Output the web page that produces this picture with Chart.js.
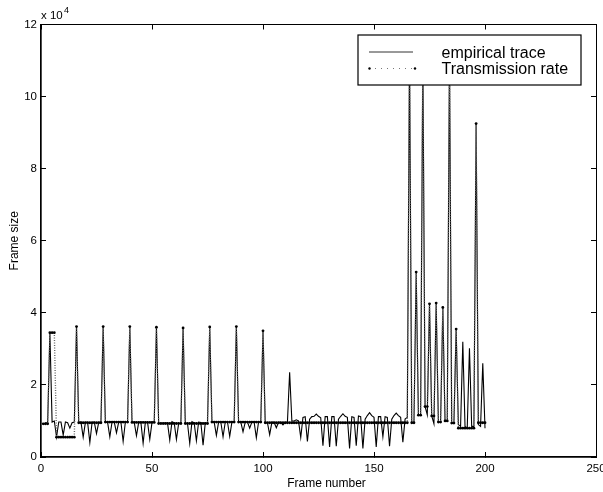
<!DOCTYPE html>
<html>
<head>
<meta charset="utf-8">
<style>
  html, body { margin: 0; padding: 0; background: #fff; }
  canvas { display: block; }
</style>
<script src="https://cdn.jsdelivr.net/npm/chart.js@4"></script>
</head>
<body>
<canvas id="traceChart" width="603" height="492"></canvas>
<script>
// Values, in units of 10^4 (frames 1 to 200)
const traceValues = [
  0.90, 0.95, 0.95, 3.45, 0.97, 1.00, 0.56, 0.97, 0.97, 0.61, 0.97, 0.95, 0.80, 0.95, 0.97,
  3.62, 0.95, 0.97, 0.55, 0.96, 0.96, 0.40, 0.96, 0.97, 0.65, 0.96, 0.96,
  3.62, 0.96, 0.96, 0.56, 0.97, 0.97, 0.67, 0.97, 0.97, 0.43, 0.97, 0.97,
  3.62, 0.96, 0.96, 0.59, 0.96, 0.96, 0.38, 0.96, 0.96, 0.49, 0.96, 0.96,
  3.60, 0.93, 0.93, 0.93, 0.94, 0.94, 0.47, 0.98, 0.95, 0.49, 0.93, 0.93,
  3.58, 0.93, 0.93, 0.38, 0.98, 0.95, 0.45, 0.97, 0.96, 0.33, 0.95, 0.93,
  3.61, 0.97, 0.97, 0.60, 0.97, 0.97, 0.56, 0.97, 0.97, 0.57, 0.97, 0.97,
  3.62, 0.97, 0.97, 0.70, 0.97, 0.97, 0.80, 0.97, 0.97, 0.53, 0.97, 0.97,
  3.50, 0.95, 0.95, 0.62, 0.96, 0.96, 0.81, 0.96, 0.96, 0.89, 0.96, 0.96,
  2.35, 1.00, 1.00, 1.03, 1.00, 0.54, 1.10, 1.12, 0.43, 1.05, 1.12, 1.13,
  1.19, 1.13, 1.09, 0.31, 1.12, 1.12, 0.28, 1.12, 1.12, 0.30, 1.05, 1.13,
  1.20, 1.13, 1.10, 0.24, 1.12, 1.10, 0.31, 1.14, 1.12, 0.24, 1.05, 1.15,
  1.23, 1.15, 1.10, 0.28, 1.12, 1.12, 0.56, 1.12, 1.10, 0.30, 1.05, 1.15,
  1.22, 1.15, 1.10, 0.41, 1.05, 1.10,
  11.2, 0.95, 0.95, 5.13, 1.17, 1.16, 11.2, 1.40, 1.17, 4.25, 1.14, 0.92,
  4.27, 0.97, 0.97, 4.15, 1.00, 1.00, 11.2, 0.94, 0.94, 3.55, 0.90, 0.85,
  3.20, 0.85, 0.80, 3.02, 0.85, 0.85, 9.25, 0.90, 0.85, 2.60, 0.80
];

const rateValues = [
  0.92, 0.92, 0.92, 3.45, 3.45, 3.45, 0.55, 0.55, 0.55, 0.55, 0.55, 0.55, 0.55, 0.55, 0.55,
  3.62, 0.95, 0.95, 0.95, 0.95, 0.95, 0.95, 0.95, 0.95, 0.95, 0.95, 0.95,
  3.62, 0.97, 0.97, 0.97, 0.97, 0.97, 0.97, 0.97, 0.97, 0.97, 0.97, 0.97,
  3.62, 0.96, 0.96, 0.96, 0.96, 0.96, 0.96, 0.96, 0.96, 0.96, 0.96, 0.96,
  3.60, 0.93, 0.93, 0.93, 0.93, 0.93, 0.93, 0.93, 0.93, 0.93, 0.93, 0.93,
  3.58, 0.93, 0.93, 0.93, 0.93, 0.93, 0.93, 0.93, 0.93, 0.93, 0.93, 0.93,
  3.61, 0.97, 0.97, 0.97, 0.97, 0.97, 0.97, 0.97, 0.97, 0.97, 0.97, 0.97,
  3.62, 0.97, 0.97, 0.97, 0.97, 0.97, 0.97, 0.97, 0.97, 0.97, 0.97, 0.97,
  3.50, 0.95, 0.95, 0.95, 0.95, 0.95, 0.95, 0.95, 0.95, 0.95, 0.95, 0.95,
  0.95, 0.95, 0.95, 0.95, 0.95, 0.95, 0.95, 0.95, 0.95, 0.95, 0.95, 0.95,
  0.95, 0.95, 0.95, 0.95, 0.95, 0.95, 0.95, 0.95, 0.95, 0.95, 0.95, 0.95,
  0.95, 0.95, 0.95, 0.95, 0.95, 0.95, 0.95, 0.95, 0.95, 0.95, 0.95, 0.95,
  0.95, 0.95, 0.95, 0.95, 0.95, 0.95, 0.95, 0.95, 0.95, 0.95, 0.95, 0.95,
  0.95, 0.95, 0.95, 0.95, 0.95, 0.95,
  11.2, 0.95, 0.95, 5.13, 1.16, 1.16, 11.2, 1.40, 1.40, 4.25, 1.14, 1.14,
  4.27, 0.97, 0.97, 4.15, 1.00, 1.00, 11.2, 0.94, 0.94, 3.55, 0.80, 0.80,
  0.80, 0.80, 0.80, 0.80, 0.80, 0.80, 9.25, 0.95, 0.95, 0.95, 0.95
];

const xTicks = [0, 50, 100, 150, 200, 250];
const yTicks = [0, 2, 4, 6, 8, 10, 12];

const traceName = 'empirical trace';
const rateName = 'Transmission rate';
const xTitle = 'Frame number';
const yTitle = 'Frame size';

const FONT = '"Liberation Sans", Arial, sans-serif';

function toPoints(values) {
  return values.map((v, i) => ({ x: i + 1, y: v }));
}

function setTicks(list) {
  return scale => { scale.ticks = list.map(v => ({ value: v })); };
}

// Plain scale with the tick marks pointing into the plot
function makeScale(position, list, min, max, showLabels, padding, size, borderWidth) {
  const horizontal = position === 'bottom' || position === 'top';
  return {
    type: 'linear',
    position: position,
    min: min,
    max: max,
    afterBuildTicks: setTicks(list),
    afterFit: scale => {
      if (horizontal) scale.height = size; else scale.width = size;
      // labels may hang past the plot edge, the plot keeps its size
      scale.paddingLeft = scale.paddingRight = scale.paddingTop = scale.paddingBottom = 0;
    },
    border: { display: true, color: '#000', width: borderWidth },
    grid: { drawOnChartArea: false, color: '#000', tickLength: -5, lineWidth: 1 },
    ticks: {
      display: showLabels,
      color: '#000',
      padding: padding,
      maxRotation: 0,
      autoSkip: false,
      font: { family: FONT, size: 11.5 }
    }
  };
}

// Boxed legend over the plot, the exponent above the y axis, the off-centre x title
const annotations = {
  id: 'annotations',
  afterDraw(chart) {
    const ctx = chart.ctx;
    ctx.save();
    ctx.fillStyle = '#fff';
    ctx.strokeStyle = '#000';
    ctx.lineWidth = 1.2;
    ctx.fillRect(358, 35, 223, 50);
    ctx.strokeRect(358, 35, 223, 50);

    ctx.lineWidth = 1;
    ctx.strokeStyle = '#333';
    ctx.beginPath();
    ctx.moveTo(369, 52);
    ctx.lineTo(413, 52);
    ctx.stroke();

    ctx.strokeStyle = '#777';
    ctx.setLineDash([1, 5]);
    ctx.beginPath();
    ctx.moveTo(369, 68.5);
    ctx.lineTo(415, 68.5);
    ctx.stroke();
    ctx.setLineDash([]);
    ctx.fillStyle = '#000';
    [369.5, 415].forEach(x => {
      ctx.beginPath();
      ctx.arc(x, 68.5, 1.2, 0, Math.PI * 2);
      ctx.fill();
    });

    ctx.textBaseline = 'alphabetic';
    ctx.font = '16px ' + FONT;
    ctx.fillText(traceName, 441.5, 58);
    ctx.fillText(rateName, 441.5, 74);

    ctx.font = '11.5px ' + FONT;
    ctx.fillText('x 10', 41, 19);
    ctx.font = '9px ' + FONT;
    ctx.fillText('4', 64, 13);

    ctx.font = '12px ' + FONT;
    ctx.textAlign = 'center';
    ctx.fillText(xTitle, 326.5, 487);
    ctx.restore();
  }
};

const traceChart = new Chart(document.getElementById('traceChart'), {
  type: 'line',
  data: {
    datasets: [{
      label: rateName,
      data: toPoints(rateValues),
      borderColor: '#666',
      borderWidth: 1.4,
      borderDash: [1, 1.5],
      pointRadius: 1.4,
      pointBackgroundColor: '#000',
      pointBorderWidth: 0,
      tension: 0
    }, {
      label: traceName,
      data: toPoints(traceValues),
      borderColor: '#000',
      borderWidth: 1.1,
      pointRadius: 0,
      tension: 0
    }]
  },
  options: {
    responsive: false,
    animation: false,
    events: [],
    layout: { padding: { left: 0, right: 7, top: 24.5, bottom: 0 } },
    plugins: {
      legend: { display: false },
      tooltip: { enabled: false }
    },
    scales: {
      x: makeScale('bottom', xTicks, 0, 250, true, 10, 35, 1.7),
      y: {
        ...makeScale('left', yTicks, 0, 12, true, 9, 41, 1.7),
        title: {
          display: true,
          text: yTitle,
          color: '#000',
          padding: { top: 7, bottom: 0 },
          font: { family: FONT, size: 12 }
        }
      },
      xTop: makeScale('top', xTicks, 0, 250, false, 0, 0, 1),
      yRight: makeScale('right', yTicks, 0, 12, false, 0, 0, 1)
    }
  },
  plugins: [annotations]
});
</script>
</body>
</html>
